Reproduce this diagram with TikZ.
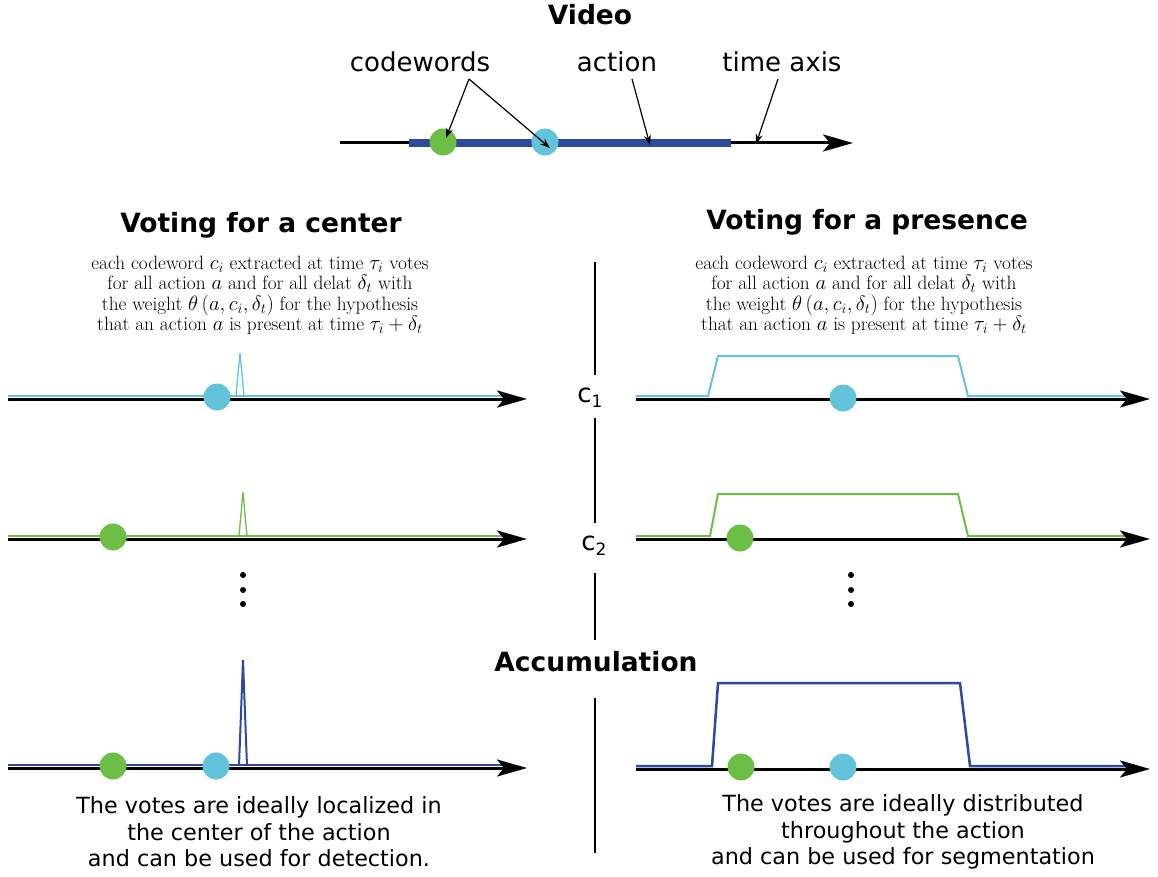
\documentclass[tikz,border=0pt]{standalone}
\usepackage{fontspec}
\setsansfont{DejaVu Sans}
\usetikzlibrary{arrows.meta}
\definecolor{cyanv}{HTML}{62C3DA}
\definecolor{greenv}{HTML}{6DBE45}
\definecolor{bluev}{HTML}{2E4A9E}
\begin{document}
\begin{tikzpicture}[x=1pt,y=-1pt,
 title/.style={font=\sffamily\bfseries\fontsize{26.5}{31}\selectfont, inner sep=0},
 lbl/.style={font=\sffamily\fontsize{26}{31}\selectfont, inner sep=0},
 desc/.style={font=\fontsize{19.3}{20.5}\selectfont, align=center, inner sep=0},
 capt/.style={font=\sffamily\fontsize{22.3}{26.5}\selectfont, align=center, inner sep=0},
 axis/.style={line width=3pt, -{Stealth[length=30pt,width=17pt,inset=7pt]}},
 dot/.style={circle, inner sep=0, minimum size=27pt},
 vdot/.style={circle, fill=black, inner sep=0, minimum size=6pt},
 sep/.style={line width=1.5pt},
 ptr/.style={line width=1.2pt, -{Stealth[length=10pt,width=7pt]}},
 vote/.style={line width=2pt, line join=miter},
 spike/.style={line width=1.3pt},
]
\useasboundingbox (0,0) rectangle (1158,877);

% ---------- Video ----------
\node[title] (video) at (590,15) {Video};
\coordinate (v0) at (340,143);
\coordinate (v1) at (853,143);
\draw[axis] (v0) -- (v1);
\coordinate (a0) at (409,143);
\coordinate (a1) at (731,143);
\draw[bluev, line width=8pt] (a0) -- (a1);
\node[dot, fill=greenv] (g0) at (443,142) {};
\node[dot, fill=cyanv] (c0) at (545,142) {};
\node[lbl] (cw) at (420,62) {codewords};
\node[lbl] (act) at (617,62) {action};
\node[lbl] (ta) at (782,62) {time axis};
\coordinate (cwo) at (469,79);
\coordinate (gtip) at (446,138);
\coordinate (ctip) at (550,148);
\coordinate (ao) at (632,79);
\coordinate (atip) at (650,145);
\coordinate (to) at (778,79);
\coordinate (ttip) at (756,144);
\draw[ptr] (cwo) -- (gtip);
\draw[ptr] (cwo) -- (ctip);
\draw[ptr] (ao) -- (atip);
\draw[ptr] (to) -- (ttip);

% ---------- headings ----------
\node[title] (hl) at (261,225) {Voting for a center};
\node[title] (hr) at (867,222) {Voting for a presence};
\node[desc] (dl) at (260,295) {each codeword $c_i$ extracted at time $\tau_i$ votes\\ for all action $a$ and for all delat $\delta_t$ with\\ the weight $\theta\left(a,c_i,\delta_t\right)$ for the hypothesis\\ that an action $a$ is present at time $\tau_i+\delta_t$};
\node[desc] (dr) at (864,295) {each codeword $c_i$ extracted at time $\tau_i$ votes\\ for all action $a$ and for all delat $\delta_t$ with\\ the weight $\theta\left(a,c_i,\delta_t\right)$ for the hypothesis\\ that an action $a$ is present at time $\tau_i+\delta_t$};

% ---------- separator ----------
\node[lbl] (lc1) at (590,398) {c\raisebox{-5pt}{\fontsize{17}{17}\selectfont 1}};
\node[lbl] (lc2) at (594,546) {c\raisebox{-5pt}{\fontsize{17}{17}\selectfont 2}};
\node[title] (acc) at (596,662) {Accumulation};
\coordinate (s0) at (595,262); \coordinate (s1) at (595,375);
\coordinate (s2) at (595,418); \coordinate (s3) at (595,523);
\coordinate (s4) at (595,573); \coordinate (s5) at (595,640);
\coordinate (s6) at (595,698); \coordinate (s7) at (595,853);
\draw[sep] (s0) -- (s1);
\draw[sep] (s2) -- (s3);
\draw[sep] (s4) -- (s5);
\draw[sep] (s6) -- (s7);

% ---------- left c1 ----------
\coordinate (l1a) at (8,399); \coordinate (l1b) at (527,399);
\draw[cyanv, vote] (8,396) -- (510,396);
\draw[cyanv, spike] (236,396) -- (240,353) -- (244,396);
\draw[axis] (l1a) -- (l1b);
\node[dot, fill=cyanv] (l1c) at (217,397) {};

% ---------- left c2 ----------
\coordinate (l2a) at (8,539); \coordinate (l2b) at (527,539);
\draw[greenv, vote] (8,536) -- (510,536);
\draw[greenv, spike] (239,536) -- (243,492) -- (247,536);
\draw[axis] (l2a) -- (l2b);
\node[dot, fill=greenv] (l2g) at (113,537) {};

\node[vdot] (ld1) at (243,575) {};
\node[vdot] (ld2) at (243,590) {};
\node[vdot] (ld3) at (243,604) {};

% ---------- left accumulation ----------
\coordinate (l3a) at (8,768); \coordinate (l3b) at (527,768);
\draw[bluev, vote] (8,765) -- (510,765);
\draw[bluev, line width=2pt, line join=miter] (239,766) -- (243,660) -- (247,766);
\draw[axis] (l3a) -- (l3b);
\node[dot, fill=greenv] (l3g) at (113,766) {};
\node[dot, fill=cyanv] (l3c) at (216,766) {};
\node[capt] (capl) at (259,832) {The votes are ideally localized in\\ the center of the action\\ and can be used for detection.};

% ---------- right c1 ----------
\coordinate (r1a) at (636,399); \coordinate (r1b) at (1150,399);
\draw[cyanv, vote] (636,396) -- (708,396) -- (718,356) -- (958,356) -- (968,396) -- (1135,396);
\draw[axis] (r1a) -- (r1b);
\node[dot, fill=cyanv] (r1c) at (843,398) {};

% ---------- right c2 ----------
\coordinate (r2a) at (636,539); \coordinate (r2b) at (1150,539);
\draw[greenv, vote] (636,536) -- (710,536) -- (718,494) -- (958,494) -- (968,536) -- (1135,536);
\draw[axis] (r2a) -- (r2b);
\node[dot, fill=greenv] (r2g) at (740,538) {};

\node[vdot] (rd1) at (851,575) {};
\node[vdot] (rd2) at (851,590) {};
\node[vdot] (rd3) at (851,604) {};

% ---------- right accumulation ----------
\coordinate (r3a) at (636,769); \coordinate (r3b) at (1150,769);
\draw[bluev, vote, line width=2.5pt] (636,766) -- (712,766) -- (718,683) -- (960,683) -- (970,766) -- (1135,766);
\draw[axis] (r3a) -- (r3b);
\node[dot, fill=greenv] (r3g) at (741,767) {};
\node[dot, fill=cyanv] (r3c) at (843,767) {};
\node[capt] (capr) at (903,832) {The votes are ideally distributed\\ throughout the action\\ and can be used for segmentation};
\end{tikzpicture}
\end{document}
